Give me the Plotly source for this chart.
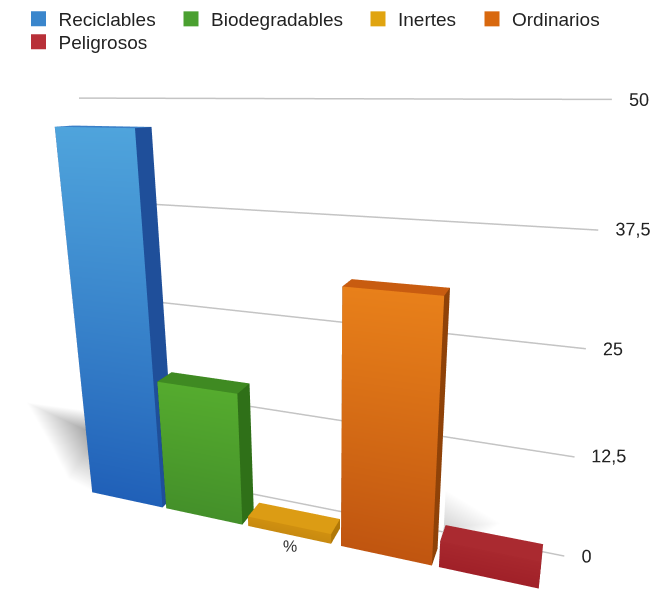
import plotly.graph_objects as go

categories = ["Reciclables", "Biodegradables", "Inertes", "Ordinarios", "Peligrosos"]
values = [46.9, 17.25, 1.3, 31.2, 3.3]
bar_positions = [0.37, 1.295, 2.24, 3.22, 4.165]
top_colors = ["#4fa4dc", "#55ab2e", "#d09010", "#e8801a", "#a8282e"]
base_colors = ["#2060b8", "#44902a", "#c88a10", "#c05510", "#a02028"]
side_colors = ["#1f4f9a", "#2f7018", "#b07808", "#8f4208", "#7e1a20"]
cap_colors = ["#3a80c8", "#3f8a22", "#dc9c14", "#c85c10", "#aa2a30"]
legend_colors = ["#3a86cc", "#4aa030", "#e0a410", "#d8680e", "#b83038"]
tick_values = [0, 12.5, 25, 37.5, 50]
tick_labels = ["0", "12,5", "25", "37,5", "50"]
unit_label = "%"

XMIN, X0, X1, XMAX = -1.4, -0.2, 4.8, 4.87
Y0, Y1, YB = 0.73, 0.86, 1.0
HW = 0.44

fig = go.Figure()


def fan(center, outer, dark):
    xs = [center[0]] + [p[0] for p in outer]
    ys = [center[1]] + [p[1] for p in outer]
    zs = [center[2]] + [p[2] for p in outer]
    n = len(outer)
    return go.Mesh3d(x=xs, y=ys, z=zs, i=[0] * (n - 1), j=list(range(1, n)),
                     k=list(range(2, n + 1)),
                     vertexcolor=[dark] + ["#ffffff"] * n, flatshading=True,
                     lighting=dict(ambient=1, diffuse=0, specular=0, fresnel=0),
                     hoverinfo="skip", showlegend=False)


def box(i, v):
    c = bar_positions[i]
    x0, x1 = c - HW, c + HW
    xs, ys, zs, vc, I, J, K = [], [], [], [], [], [], []
    faces = [
        ([(x0, Y0, 0), (x1, Y0, 0), (x1, Y0, v), (x0, Y0, v)],
         [base_colors[i], base_colors[i], top_colors[i], top_colors[i]]),
        ([(x1, Y0, 0), (x1, Y1, 0), (x1, Y1, v), (x1, Y0, v)], [side_colors[i]] * 4),
        ([(x0, Y0, v), (x1, Y0, v), (x1, Y1, v), (x0, Y1, v)], [cap_colors[i]] * 4),
        ([(x0, Y0, 0), (x0, Y1, 0), (x0, Y1, v), (x0, Y0, v)], [side_colors[i]] * 4),
    ]
    for pts, cols in faces:
        n = len(xs)
        for p, col in zip(pts, cols):
            xs.append(p[0]); ys.append(p[1]); zs.append(p[2]); vc.append(col)
        I += [n, n]; J += [n + 1, n + 2]; K += [n + 2, n + 3]
    return go.Mesh3d(x=xs, y=ys, z=zs, i=I, j=J, k=K, vertexcolor=vc, flatshading=True,
                     lighting=dict(ambient=1, diffuse=0, specular=0, fresnel=0),
                     hoverinfo="skip", showlegend=False)


fig.add_trace(fan((-0.4, 1.01, 4.2),
                  [(-1.38, 1.01, 7.5), (-1.1, 1.01, 1.5), (-0.5, 0.8, 0), (-0.08, 0.74, 0), (-0.06, 1.01, 8.0), (-1.38, 1.01, 7.5)],
                  "#9a9a9a"))
fig.add_trace(fan((3.68, 0.95, 1.5),
                  [(3.66, 1.01, 5.5), (4.2, 1.01, 2.5), (3.9, 0.9, 0), (3.66, 0.9, 0)], "#d4d4d4"))

for t in tick_values:
    fig.add_trace(go.Scatter3d(x=[X0, X1], y=[YB, YB], z=[t, t], mode="lines",
                               line=dict(color="#c4c4c4", width=3), hoverinfo="skip", showlegend=False))
for i, v in enumerate(values):
    fig.add_trace(box(i, v))

fig.add_trace(go.Scatter3d(x=[X1] * 5, y=[YB] * 5, z=tick_values, mode="text", text=tick_labels,
                           textposition="middle right",
                           textfont=dict(family="Liberation Sans", size=18, color="#222222"),
                           hoverinfo="skip", showlegend=False))
fig.add_trace(go.Scatter3d(x=[2.32], y=[0.65], z=[0], mode="text", text=[unit_label],
                           textposition="middle center",
                           textfont=dict(family="Liberation Sans", size=16, color="#333333"),
                           hoverinfo="skip", showlegend=False))

legend_x = [18.5, 171, 358, 472, 18.5]
legend_y = [1.0, 1.0, 1.0, 1.0, 0.961]
legends = {}
for k, (name, col) in enumerate(zip(categories, legend_colors)):
    key = "legend" if k == 0 else f"legend{k + 1}"
    fig.add_trace(go.Scatter(x=[None], y=[None], mode="markers", name=name, legend=key,
                             marker=dict(symbol="square", size=15, color=col)))
    legends[key] = dict(x=legend_x[k] / 659, y=legend_y[k], xanchor="left", yanchor="top",
                        font=dict(size=19), itemwidth=30, bgcolor="rgba(0,0,0,0)")

fig.update_layout(
    width=659, height=589, margin=dict(l=0, r=0, t=0, b=0),
    paper_bgcolor="white", plot_bgcolor="white",
    font=dict(family="Liberation Sans", color="#222222"),
    xaxis=dict(visible=False), yaxis=dict(visible=False),
    scene=dict(
        domain=dict(x=[0, 1], y=[0, 1]),
        bgcolor="white",
        aspectmode="manual", aspectratio=dict(x=1.536, y=0.515, z=1.0302),
        xaxis=dict(visible=False, range=[XMIN, XMAX]),
        yaxis=dict(visible=False, range=[0, 1.03]),
        zaxis=dict(visible=False, range=[-0.5, 50.5]),
        camera=dict(eye=dict(x=0.7125, y=-1.2625, z=0.516),
                    center=dict(x=0.231, y=0.0975, z=0.108),
                    up=dict(x=0, y=0, z=1),
                    projection=dict(type="perspective")),
    ),
    **legends,
)
fig.write_html("out.html", post_script="document.body.style.margin='0';",
               config={"displayModeBar": False})
